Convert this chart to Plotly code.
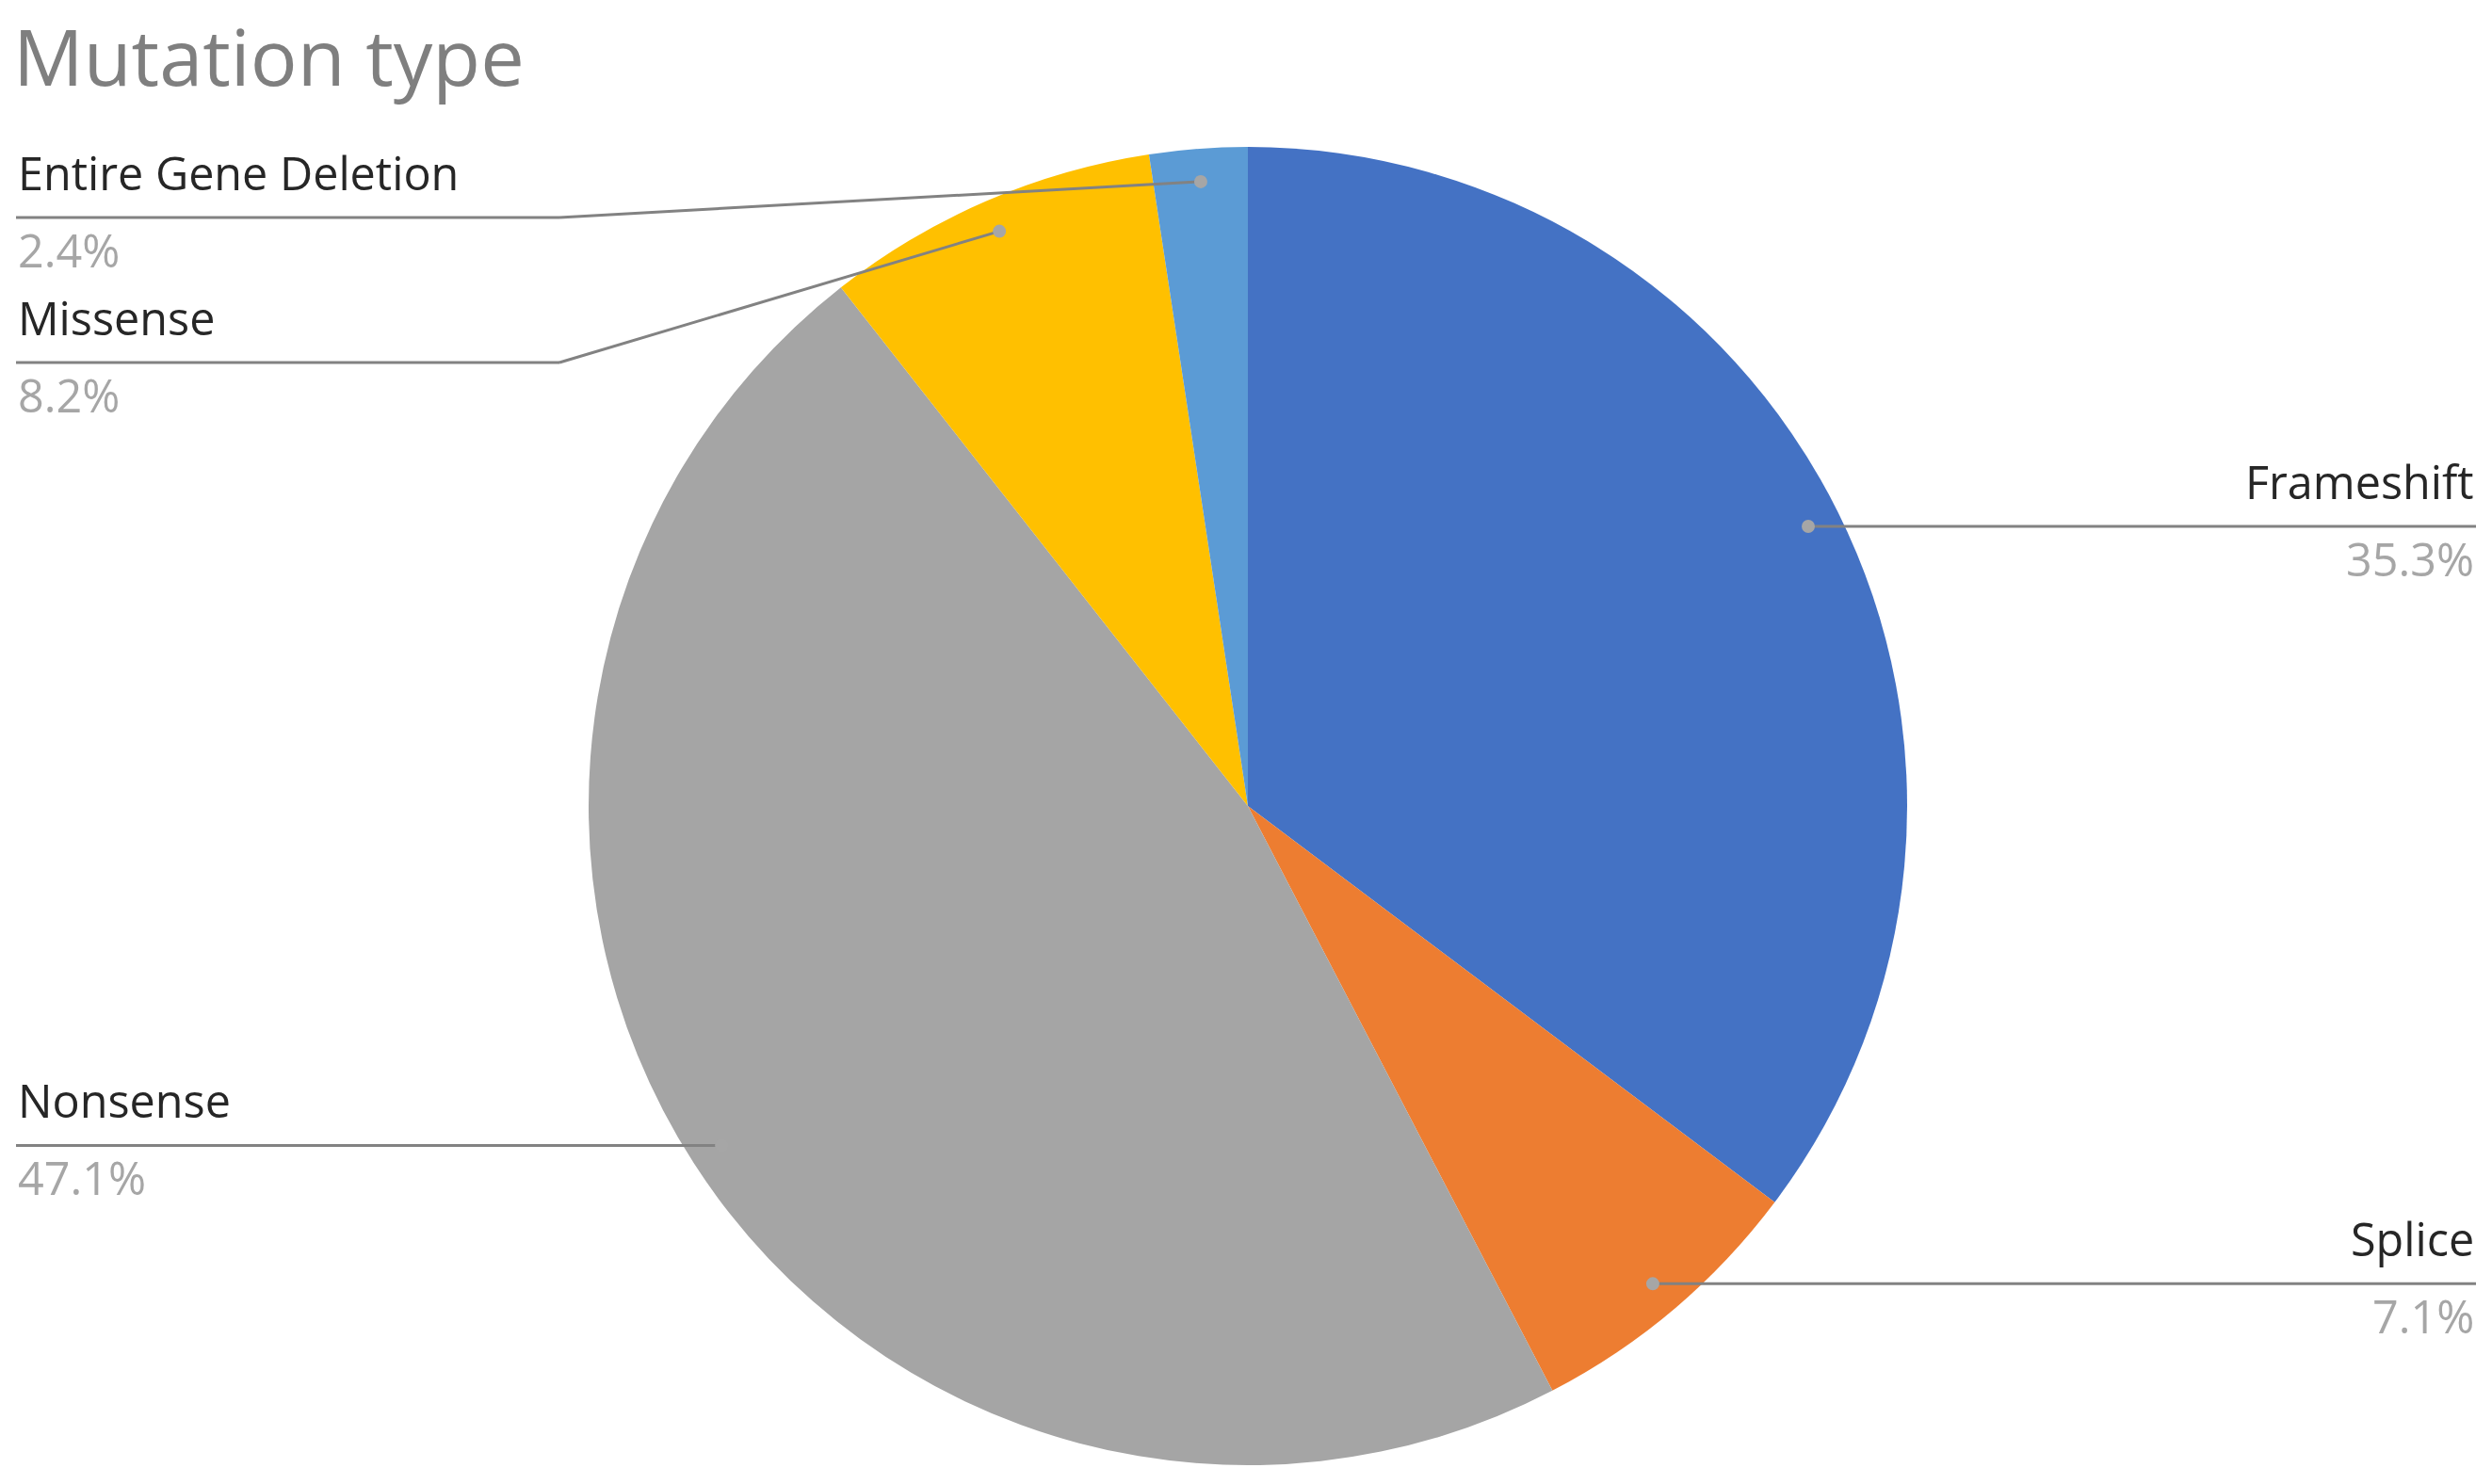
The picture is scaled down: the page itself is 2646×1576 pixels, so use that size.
import math
import plotly.graph_objects as go

# ---- data ----
categories = ["Frameshift", "Splice", "Nonsense", "Missense", "Entire Gene Deletion"]
values = [35.3, 7.1, 47.1, 8.2, 2.4]
pct_labels = ["35.3%", "7.1%", "47.1%", "8.2%", "2.4%"]
colors = ["#4472C4", "#ED7D31", "#A5A5A5", "#FFC000", "#5B9BD5"]

# ---- layout geometry (pixels) ----
W, H = 2646, 1576
cx, cy, R = 1325, 856, 700
FONT = "Open Sans"

def px(x):
    return x / W

def py(y):
    return 1 - y / H

fig = go.Figure(go.Pie(
    labels=categories, values=values, sort=False, direction="clockwise",
    rotation=0, marker=dict(colors=colors, line=dict(width=0)),
    textinfo="none", hoverinfo="label+percent",
    domain=dict(x=[px(cx - R), px(cx + R)], y=[py(cy + R), py(cy - R)]),
    showlegend=False,
))

# label placement: side, line y (None -> same as anchor), elbow x
label_side = ["right", "right", "left", "left", "left"]
line_y_override = [None, None, None, 385, 231]
elbow_x = 594
left_x, right_x = 17, 2629

total = sum(values)
cum = 0.0
shapes, annotations = [], []
line_col = "#828282"
for i, v in enumerate(values):
    mid = (cum + v / 2) / total * 2 * math.pi
    cum += v
    ax = cx + 0.95 * R * math.sin(mid)
    ay = cy - 0.95 * R * math.cos(mid)
    ly = ay if line_y_override[i] is None else line_y_override[i]
    if label_side[i] == "right":
        pts = [(ax, ay), (right_x, ly)]
        tx, xanchor = right_x, "right"
    else:
        if line_y_override[i] is None:
            pts = [(ax, ay), (left_x, ly)]
        else:
            pts = [(ax, ay), (elbow_x, ly), (left_x, ly)]
        tx, xanchor = left_x, "left"
    for (x0, y0), (x1, y1) in zip(pts[:-1], pts[1:]):
        shapes.append(dict(type="line", xref="paper", yref="paper",
                           x0=px(x0), y0=py(y0), x1=px(x1), y1=py(y1),
                           line=dict(color=line_col, width=3)))
    r = 7
    shapes.append(dict(type="circle", xref="paper", yref="paper",
                       x0=px(ax - r), x1=px(ax + r), y0=py(ay + r), y1=py(ay - r),
                       fillcolor="#A6A6A6", line=dict(width=0)))
    annotations.append(dict(x=px(tx), y=py(ly - 48), xref="paper", yref="paper",
                            text=categories[i], showarrow=False, xanchor=xanchor,
                            yanchor="middle",
                            font=dict(family=FONT, size=48.5, color="#262626")))
    annotations.append(dict(x=px(tx), y=py(ly + 34), xref="paper", yref="paper",
                            text=pct_labels[i], showarrow=False, xanchor=xanchor,
                            yanchor="middle",
                            font=dict(family=FONT, size=48.5, color="#A6A6A6")))

annotations.append(dict(x=px(12), y=1, xref="paper", yref="paper",
                        text="Mutation type", showarrow=False, xanchor="left",
                        yanchor="top",
                        font=dict(family=FONT, size=83, color="#7F7F7F")))

fig.update_layout(width=W, height=H, margin=dict(l=0, r=0, t=0, b=0),
                  paper_bgcolor="white", plot_bgcolor="white",
                  shapes=shapes, annotations=annotations)

fig.write_html("out.html", config={"displayModeBar": False},
               post_script="document.body.style.margin='0';document.body.style.overflow='hidden';")
